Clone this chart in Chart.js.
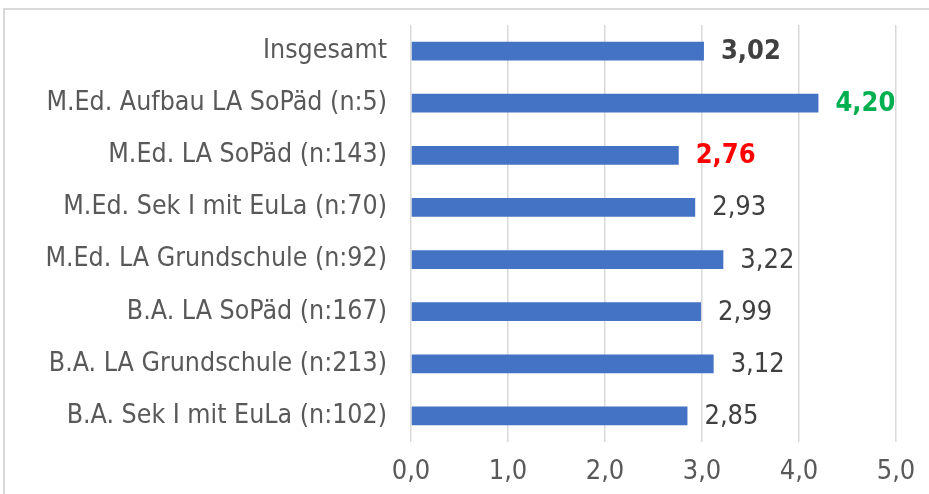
<!DOCTYPE html>
<html>
<head>
<meta charset="utf-8">
<script src="https://cdn.jsdelivr.net/npm/chart.js@4.4.1/dist/chart.umd.min.js"></script>
<style>
  html, body { margin: 0; padding: 0; background: #fff; overflow: hidden; }
  #rahmen { position: absolute; left: 3px; top: 8px; width: 960px; height: 520px; border: 2px solid #d9d9d9; }
  #grafik { position: absolute; left: 0; top: 0; }
</style>
</head>
<body>
<div id="rahmen"></div>
<canvas id="grafik" width="929" height="494"></canvas>
<script>
// Kategorien (von oben nach unten)
const kategorien = [
  "Insgesamt",
  "M.Ed. Aufbau LA SoPäd (n:5)",
  "M.Ed. LA SoPäd (n:143)",
  "M.Ed. Sek I mit EuLa (n:70)",
  "M.Ed. LA Grundschule (n:92)",
  "B.A. LA SoPäd (n:167)",
  "B.A. LA Grundschule (n:213)",
  "B.A. Sek I mit EuLa (n:102)"
];
const mittelwerte = [3.02, 4.20, 2.76, 2.93, 3.22, 2.99, 3.12, 2.85];
const achsenTicks = [0, 1, 2, 3, 4, 5];

// Stil der Wertebeschriftungen
const wertFarben = ["#404040", "#00B050", "#FF0000", "#404040", "#404040", "#404040", "#404040", "#404040"];
const wertFett = [true, true, true, false, false, false, false, false];

const SCHRIFT = '"DejaVu Sans Condensed", "DejaVu Sans", sans-serif';

function komma(v, n) {
  return v.toFixed(n).replace('.', ',');
}

// Werte rechts neben den Balken
const wertLabels = {
  id: 'wertLabels',
  afterDatasetsDraw(chart) {
    const ctx = chart.ctx;
    const meta = chart.getDatasetMeta(0);
    ctx.save();
    ctx.textBaseline = 'middle';
    ctx.textAlign = 'left';
    meta.data.forEach((bar, i) => {
      ctx.font = (wertFett[i] ? 'bold ' : '') + '27px ' + SCHRIFT;
      ctx.fillStyle = wertFarben[i];
      ctx.fillText(komma(mittelwerte[i], 2), bar.x + 17, bar.y + 1);
    });
    ctx.restore();
  }
};

const canvas = document.getElementById('grafik');
const ctx = canvas.getContext('2d');

new Chart(ctx, {
  type: 'bar',
  data: {
    labels: kategorien,
    datasets: [{
      data: mittelwerte,
      backgroundColor: '#4472C4',
      borderWidth: 0,
      barPercentage: 0.45,
      categoryPercentage: 0.8
    }]
  },
  options: {
    indexAxis: 'y',
    responsive: false,
    devicePixelRatio: 1,
    animation: false,
    layout: { padding: { top: 25, right: 33, left: 0, bottom: 0 } },
    plugins: {
      legend: { display: false },
      tooltip: { enabled: false }
    },
    scales: {
      y: {
        grid: { display: false },
        border: { display: false },
        ticks: {
          color: '#595959',
          font: { family: SCHRIFT, size: 26.5 },
          padding: 16
        },
        afterFit(s) {
          s.width = 411;
          s.paddingTop = 0;
          s.paddingBottom = 0;
        }
      },
      x: {
        min: 0,
        max: 5,
        afterBuildTicks(s) { s.ticks = achsenTicks.map(v => ({ value: v })); },
        grid: { color: '#d9d9d9', lineWidth: 1.5, drawTicks: false },
        border: { display: false },
        ticks: {
          color: '#595959',
          font: { family: SCHRIFT, size: 27 },
          padding: 14,
          callback: v => komma(v, 1)
        },
        afterFit(s) {
          s.height = 52;
          s.paddingLeft = 0;
          s.paddingRight = 0;
        }
      }
    }
  },
  plugins: [wertLabels]
});
</script>
</body>
</html>
